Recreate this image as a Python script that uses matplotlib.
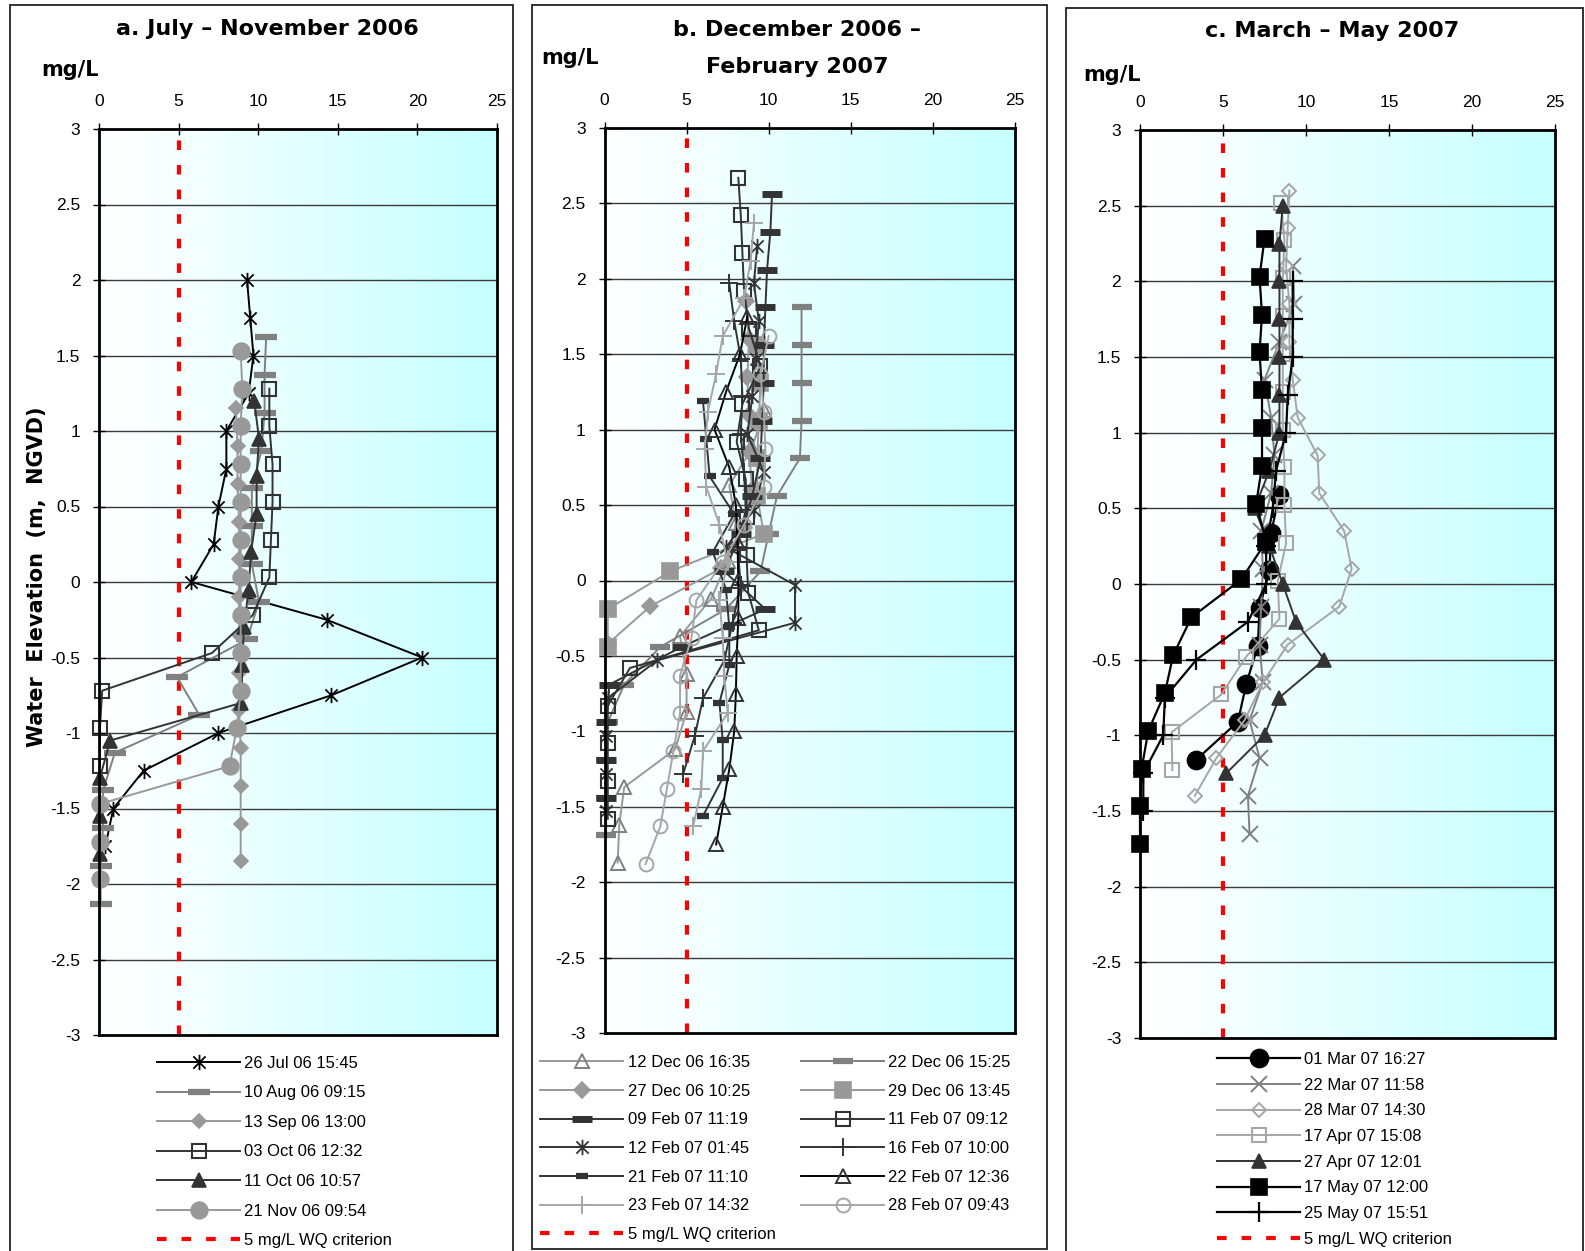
import matplotlib
matplotlib.use('Agg')
import matplotlib.pyplot as plt
import numpy as np
from matplotlib.path import Path
from matplotlib.lines import Line2D
from matplotlib.patches import Rectangle
from matplotlib.colors import LinearSegmentedColormap

plt.rcParams['font.family'] = ['Liberation Sans', 'DejaVu Sans']

# ---------------- data ----------------
# Panel a: July - November 2006
a_labels = ["26 Jul 06 15:45", "10 Aug 06 09:15", "13 Sep 06 13:00",
            "03 Oct 06 12:32", "11 Oct 06 10:57", "21 Nov 06 09:54"]
a_jul26_x = [9.3, 9.5, 9.7, 9.4, 8.0, 8.0, 7.5, 7.2, 5.8, 14.3, 20.3, 14.6, 7.5, 2.8, 0.9, 0.4]
a_jul26_y = [2.0, 1.75, 1.5, 1.25, 1.0, 0.75, 0.5, 0.25, 0.0, -0.25, -0.5, -0.75, -1.0, -1.25, -1.5, -1.75]
a_aug10_x = [10.5, 10.4, 10.4, 10.2, 9.6, 9.6, 9.6, 10.05, 9.3, 4.9, 6.3, 1.0, 0.25, 0.25, 0.1, 0.1]
a_aug10_y = [1.62, 1.37, 1.12, 0.87, 0.62, 0.37, 0.12, -0.13, -0.38, -0.63, -0.88, -1.13, -1.38, -1.63, -1.88, -2.13]
a_sep13_x = [8.6, 8.7, 8.7, 8.8, 8.8, 8.8, 8.8, 8.8, 8.8, 8.9, 8.9, 8.9, 8.9]
a_sep13_y = [1.15, 0.9, 0.65, 0.4, 0.15, -0.1, -0.35, -0.6, -0.85, -1.1, -1.35, -1.6, -1.85]
a_oct03_x = [10.7, 10.7, 10.9, 10.9, 10.8, 10.7, 9.65, 7.1, 0.2, 0.06, 0.06]
a_oct03_y = [1.28, 1.03, 0.78, 0.53, 0.28, 0.03, -0.22, -0.47, -0.72, -0.97, -1.22]
a_oct11_x = [9.75, 10.05, 9.9, 9.9, 9.55, 9.4, 9.1, 9.0, 8.95, 0.7, 0.05, 0.05, 0.05]
a_oct11_y = [1.2, 0.95, 0.7, 0.45, 0.2, -0.05, -0.3, -0.55, -0.8, -1.05, -1.3, -1.55, -1.8]
a_nov21_x = [8.9, 9.0, 8.9, 8.9, 8.9, 8.9, 8.9, 8.9, 8.9, 8.9, 8.65, 8.2, 0.05, 0.05, 0.05]
a_nov21_y = [1.53, 1.28, 1.03, 0.78, 0.53, 0.28, 0.03, -0.22, -0.47, -0.72, -0.97, -1.22, -1.47, -1.72, -1.97]

# Panel b: December 2006 - February 2007
b_labels = ["12 Dec 06 16:35", "22 Dec 06 15:25", "27 Dec 06 10:25", "29 Dec 06 13:45",
            "09 Feb 07 11:19", "11 Feb 07 09:12", "12 Feb 07 01:45", "16 Feb 07 10:00",
            "21 Feb 07 11:10", "22 Feb 07 12:36", "23 Feb 07 14:32", "28 Feb 07 09:43"]
b_dec12_x = [9.7, 9.0, 7.6, 8.0, 7.5, 6.5, 4.6, 5.0, 5.0, 4.3, 1.2, 0.9, 0.8]
b_dec12_y = [1.13, 0.88, 0.63, 0.38, 0.13, -0.12, -0.37, -0.62, -0.87, -1.12, -1.37, -1.62, -1.87]
b_dec22_x = [12.0, 12.0, 12.0, 12.0, 11.9, 10.5, 10.0, 9.5, 7.4, 3.4, 1.2, 0.2, 0.1, 0.1, 0.1]
b_dec22_y = [1.81, 1.56, 1.31, 1.06, 0.81, 0.56, 0.31, 0.06, -0.19, -0.44, -0.69, -0.94, -1.19, -1.44, -1.69]
b_dec27_x = [8.6, 8.8, 8.7, 8.8, 8.8, 9.0, 8.5, 7.1, 2.8, 0.2]
b_dec27_y = [1.85, 1.6, 1.35, 1.1, 0.85, 0.6, 0.35, 0.08, -0.17, -0.42]
b_dec29_x = [9.3, 9.5, 9.4, 9.3, 9.3, 9.7, 4.0, 0.2, 0.2]
b_dec29_y = [1.56, 1.31, 1.06, 0.81, 0.56, 0.31, 0.06, -0.19, -0.44]
b_feb09_x = [10.2, 10.1, 9.9, 9.8, 9.7, 9.7, 9.6, 9.5, 9.0, 8.3, 7.3, 9.8, 4.7, 0.3, 0.1, 0.1, 0.1]
b_feb09_y = [2.56, 2.31, 2.06, 1.81, 1.56, 1.31, 1.06, 0.81, 0.56, 0.31, 0.06, -0.19, -0.44, -0.69, -0.94, -1.19, -1.44]
b_feb11_x = [8.15, 8.3, 8.4, 8.5, 8.8, 9.5, 8.4, 8.05, 8.6, 8.7, 8.65, 8.75, 9.4, 1.55, 0.2, 0.2, 0.2, 0.2]
b_feb11_y = [2.67, 2.42, 2.17, 1.92, 1.67, 1.42, 1.17, 0.92, 0.67, 0.42, 0.17, -0.08, -0.33, -0.58, -0.83, -1.08, -1.33, -1.58]
b_feb12_x = [9.3, 9.1, 9.4, 9.2, 9.0, 8.7, 9.7, 9.1, 7.4, 11.6, 11.6, 3.2, 0.2, 0.1, 0.1, 0.1]
b_feb12_y = [2.22, 1.97, 1.72, 1.47, 1.22, 0.97, 0.72, 0.47, 0.22, -0.03, -0.28, -0.53, -0.78, -1.03, -1.28, -1.53]
b_feb16_x = [7.6, 7.9, 8.3, 8.4, 8.3, 8.5, 8.6, 8.1, 8.3, 7.8, 7.3, 6.0, 5.5, 4.8]
b_feb16_y = [1.97, 1.72, 1.47, 1.22, 0.97, 0.72, 0.47, 0.22, -0.03, -0.28, -0.53, -0.78, -1.03, -1.28]
b_feb21_x = [6.0, 6.2, 6.4, 7.9, 6.6, 7.4, 7.6, 7.6, 7.0, 7.2, 7.2, 6.0]
b_feb21_y = [1.19, 0.94, 0.69, 0.44, 0.19, -0.06, -0.31, -0.56, -0.81, -1.06, -1.31, -1.56]
b_feb22_x = [8.7, 8.25, 7.4, 6.7, 7.6, 8.0, 8.1, 8.15, 8.15, 8.05, 8.0, 7.9, 7.6, 7.2, 6.8]
b_feb22_y = [1.75, 1.5, 1.25, 1.0, 0.75, 0.5, 0.25, 0.0, -0.25, -0.5, -0.75, -1.0, -1.25, -1.5, -1.75]
b_feb23_x = [9.1, 8.9, 8.5, 7.2, 6.8, 6.3, 6.1, 6.2, 7.0, 7.5, 7.0, 7.2, 7.3, 7.5, 6.0, 5.9, 5.4]
b_feb23_y = [2.37, 2.12, 1.87, 1.62, 1.37, 1.12, 0.87, 0.62, 0.37, 0.12, -0.13, -0.38, -0.63, -0.88, -1.13, -1.38, -1.63]
b_feb28_x = [10.0, 9.5, 9.7, 9.8, 9.7, 8.5, 7.2, 5.6, 5.3, 4.6, 4.6, 4.2, 3.8, 3.4, 2.5]
b_feb28_y = [1.62, 1.37, 1.12, 0.87, 0.62, 0.37, 0.12, -0.13, -0.38, -0.63, -0.88, -1.13, -1.38, -1.63, -1.88]

# Panel c: March - May 2007
c_labels = ["01 Mar 07 16:27", "22 Mar 07 11:58", "28 Mar 07 14:30", "17 Apr 07 15:08",
            "27 Apr 07 12:01", "17 May 07 12:00", "25 May 07 15:51"]
c_mar01_x = [8.4, 7.9, 7.8, 7.2, 7.1, 6.4, 5.9, 3.4]
c_mar01_y = [0.59, 0.34, 0.09, -0.16, -0.41, -0.66, -0.91, -1.16]
c_mar22_x = [9.2, 9.3, 8.4, 7.5, 7.9, 8.1, 7.9, 7.3, 7.4, 7.3, 7.2, 7.4, 6.6, 7.2, 6.5, 6.6]
c_mar22_y = [2.1, 1.85, 1.6, 1.35, 1.1, 0.85, 0.6, 0.35, 0.1, -0.15, -0.4, -0.65, -0.9, -1.15, -1.4, -1.65]
c_mar28_x = [9.0, 8.9, 8.8, 9.0, 9.0, 9.2, 9.5, 10.7, 10.8, 12.3, 12.75, 12.0, 8.9, 7.4, 6.3, 4.6, 3.3]
c_mar28_y = [2.6, 2.35, 2.1, 1.85, 1.6, 1.35, 1.1, 0.85, 0.6, 0.35, 0.1, -0.15, -0.4, -0.65, -0.9, -1.15, -1.4]
c_apr17_x = [8.5, 8.7, 8.6, 8.6, 8.6, 8.6, 8.6, 8.7, 8.7, 8.8, 8.3, 8.4, 6.4, 4.9, 1.9, 1.95]
c_apr17_y = [2.52, 2.27, 2.02, 1.77, 1.52, 1.27, 1.02, 0.77, 0.52, 0.27, 0.02, -0.23, -0.48, -0.73, -0.98, -1.23]
c_apr27_x = [8.6, 8.4, 8.4, 8.4, 8.4, 8.4, 8.4, 7.8, 6.9, 7.8, 8.6, 9.4, 11.1, 8.4, 7.5, 5.2]
c_apr27_y = [2.5, 2.25, 2.0, 1.75, 1.5, 1.25, 1.0, 0.75, 0.5, 0.25, 0.0, -0.25, -0.5, -0.75, -1.0, -1.25]
c_may17_x = [7.5, 7.2, 7.35, 7.2, 7.35, 7.35, 7.35, 7.0, 7.6, 6.1, 3.1, 2.0, 1.5, 0.5, 0.1, 0.0, 0.0]
c_may17_y = [2.28, 2.03, 1.78, 1.53, 1.28, 1.03, 0.78, 0.53, 0.28, 0.03, -0.22, -0.47, -0.72, -0.97, -1.22, -1.47, -1.72]
c_may25_x = [9.2, 9.2, 9.2, 8.9, 8.8, 8.2, 8.0, 7.6, 7.6, 6.5, 3.4, 1.5, 1.4, 0.2, 0.2]
c_may25_y = [2.0, 1.75, 1.5, 1.25, 1.0, 0.75, 0.5, 0.25, 0.0, -0.25, -0.5, -0.75, -1.0, -1.25, -1.5]

x_ticks = [0, 5, 10, 15, 20, 25]
y_ticks = [3, 2.5, 2, 1.5, 1, 0.5, 0, -0.5, -1, -1.5, -2, -2.5, -3]
criterion = 5
criterion_label = "5 mg/L WQ criterion"
title_a = "a. July \u2013 November 2006"
title_b1 = "b. December 2006 \u2013"
title_b2 = "February 2007"
title_c = "c. March \u2013 May 2007"
y_title = "Water  Elevation  (m,  NGVD)"
unit = "mg/L"

# ---------------- styles ----------------
W, H = 1585, 1251
fig = plt.figure(figsize=(W / 100, H / 100), dpi=100)

star = Path([(-1, -1), (1, 1), (-1, 1), (1, -1), (0, -1.25), (0, 1.25)],
            [Path.MOVETO, Path.LINETO, Path.MOVETO, Path.LINETO, Path.MOVETO, Path.LINETO])

K, DK, G, LG, LLG = '#000000', '#333333', '#808080', '#999999', '#A6A6A6'

def st(color, marker, ms, mfc=None, mec=None, mew=1.2, lw=1.4):
    return dict(color=color, marker=marker, markersize=ms,
                markerfacecolor=mfc if mfc is not None else color,
                markeredgecolor=mec if mec is not None else color,
                markeredgewidth=mew, linewidth=lw)

a_styles = [st(K, star, 11, mew=1.3),
            st(G, '_', 16, mew=4.5),
            st(LG, 'D', 7),
            st(DK, 's', 10, mfc='none', mew=1.5),
            st(DK, '^', 10),
            st(LG, 'o', 12)]
b_styles = [st(LG, '^', 10, mfc='none', mec=G, mew=1.4),
            st(G, '_', 15, mew=4.5),
            st(LG, 'D', 8),
            st(LG, 's', 11),
            st(DK, '_', 15, mew=5),
            st(DK, 's', 10, mfc='none', mew=1.5),
            st(DK, star, 11, mew=1.3),
            st(DK, '+', 13, mew=1.4),
            st(DK, '_', 9, mew=4.5),
            st(K, '^', 10, mfc='none', mec=DK, mew=1.4),
            st(LLG, '+', 13, mew=1.4),
            st(LLG, 'o', 10, mfc='none', mew=1.4)]
c_styles = [st(K, 'o', 13, lw=1.6),
            st(G, 'x', 11, mew=1.4),
            st(LLG, 'D', 7, mfc='none', mew=1.4),
            st(LLG, 's', 10, mfc='none', mew=1.5),
            st(DK, '^', 10),
            st(K, 's', 11, lw=1.6),
            st(K, '+', 15, mew=1.6, lw=1.6)]

a_series = [(a_jul26_x, a_jul26_y), (a_aug10_x, a_aug10_y), (a_sep13_x, a_sep13_y),
            (a_oct03_x, a_oct03_y), (a_oct11_x, a_oct11_y), (a_nov21_x, a_nov21_y)]
b_series = [(b_dec12_x, b_dec12_y), (b_dec22_x, b_dec22_y), (b_dec27_x, b_dec27_y),
            (b_dec29_x, b_dec29_y), (b_feb09_x, b_feb09_y), (b_feb11_x, b_feb11_y),
            (b_feb12_x, b_feb12_y), (b_feb16_x, b_feb16_y), (b_feb21_x, b_feb21_y),
            (b_feb22_x, b_feb22_y), (b_feb23_x, b_feb23_y), (b_feb28_x, b_feb28_y)]
c_series = [(c_mar01_x, c_mar01_y), (c_mar22_x, c_mar22_y), (c_mar28_x, c_mar28_y),
            (c_apr17_x, c_apr17_y), (c_apr27_x, c_apr27_y), (c_may17_x, c_may17_y),
            (c_may25_x, c_may25_y)]

grad_cmap = LinearSegmentedColormap.from_list('wc', [(0, '#FFFFFF'), (0.12, '#FAFFFF'), (1, '#C6FFFF')])
crit_style = dict(color='red', linewidth=3, dashes=(2.3, 3.6))
TITLE_KW = dict(ha='center', va='center', fontsize=16, fontweight='bold', family='DejaVu Sans')
UNIT_KW = dict(ha='center', va='center', fontsize=15, fontweight='bold', family='DejaVu Sans')

def fx(x):
    return x / W

def fy(y):
    return 1 - y / H

def add_panel(l, r, t, b):
    return fig.add_axes([l / W, 1 - b / H, (r - l) / W, (b - t) / H])

def setup(ax):
    ax.set_xlim(0, 25)
    ax.set_ylim(-3, 3)
    grad = np.linspace(0, 1, 256).reshape(1, -1)
    ax.imshow(grad, extent=[0, 25, -3, 3], aspect='auto', cmap=grad_cmap, zorder=0, origin='lower')
    for yv in y_ticks[1:-1]:
        ax.axhline(yv, color='#3a3a3a', linewidth=1.0, zorder=1)
    ax.axvline(criterion, zorder=2, **crit_style)
    ax.xaxis.tick_top()
    ax.set_xticks(x_ticks)
    ax.set_xticklabels([str(v) for v in x_ticks])
    ax.set_yticks(y_ticks)
    ax.set_yticklabels([f"{v:g}" for v in y_ticks])
    ax.tick_params(axis='x', direction='inout', length=9, width=1, labelsize=12.5, pad=10)
    ax.tick_params(axis='y', direction='inout', length=9, width=1, labelsize=12.5, pad=9)
    for s in ax.spines.values():
        s.set_linewidth(2)
        s.set_color('black')
        s.set_zorder(10)

def draw(ax, series, styles):
    handles = []
    for i, ((xs, ys), sty) in enumerate(zip(series, styles)):
        ln, = ax.plot(xs, ys, zorder=3 + i * 0.01, clip_on=False, **sty)
        handles.append(ln)
    return handles

def crit_handle():
    return Line2D([], [], **crit_style)

leg_kw = dict(frameon=False, fontsize=12, handlelength=5.0, handletextpad=0.25,
              borderpad=0, borderaxespad=0, numpoints=1, loc='upper left')

# ---- frames ----
for (l, t, r, b) in [(10, 5, 513, 1262), (532, 5, 1047, 1249), (1066, 8, 1583, 1262)]:
    fig.add_artist(Rectangle((fx(l), fy(b)), (r - l) / W, (b - t) / H, transform=fig.transFigure,
                             fill=False, edgecolor='#222222', linewidth=1.3))

# ---- panel a ----
axa = add_panel(99, 497, 129, 1035)
setup(axa)
ha = draw(axa, a_series, a_styles)
fig.text(fx(37), fy(577), y_title, rotation=90, ha='center', va='center',
         fontsize=15, fontweight='bold', family='DejaVu Sans')
fig.text(fx(267), fy(29), title_a, **TITLE_KW)
fig.text(fx(70), fy(70), unit, **UNIT_KW)
fig.legend(ha + [crit_handle()], a_labels + [criterion_label], bbox_to_anchor=(fx(157), fy(1056)),
           labelspacing=0.87, **leg_kw)

# ---- panel b ----
axb = add_panel(604.5, 1015, 128, 1033)
setup(axb)
hb = draw(axb, b_series, b_styles)
fig.text(fx(797), fy(30), title_b1, **TITLE_KW)
fig.text(fx(797), fy(67), title_b2, **TITLE_KW)
fig.text(fx(570), fy(58), unit, **UNIT_KW)
col1 = [0, 2, 4, 6, 8, 10]
col2 = [1, 3, 5, 7, 9, 11]
fig.legend([hb[i] for i in col1] + [crit_handle()], [b_labels[i] for i in col1] + [criterion_label],
           bbox_to_anchor=(fx(540), fy(1055)), labelspacing=0.82, **leg_kw)
fig.legend([hb[i] for i in col2], [b_labels[i] for i in col2],
           bbox_to_anchor=(fx(801), fy(1055)), labelspacing=0.82, **leg_kw)

# ---- panel c ----
axc = add_panel(1140, 1555, 130, 1038)
setup(axc)
hc = draw(axc, c_series, c_styles)
fig.text(fx(1332), fy(31), title_c, **TITLE_KW)
fig.text(fx(1112), fy(75), unit, **UNIT_KW)
fig.legend(hc + [crit_handle()], c_labels + [criterion_label], bbox_to_anchor=(fx(1217), fy(1052)),
           labelspacing=0.64, **leg_kw)

fig.savefig('out.png', dpi=100)
